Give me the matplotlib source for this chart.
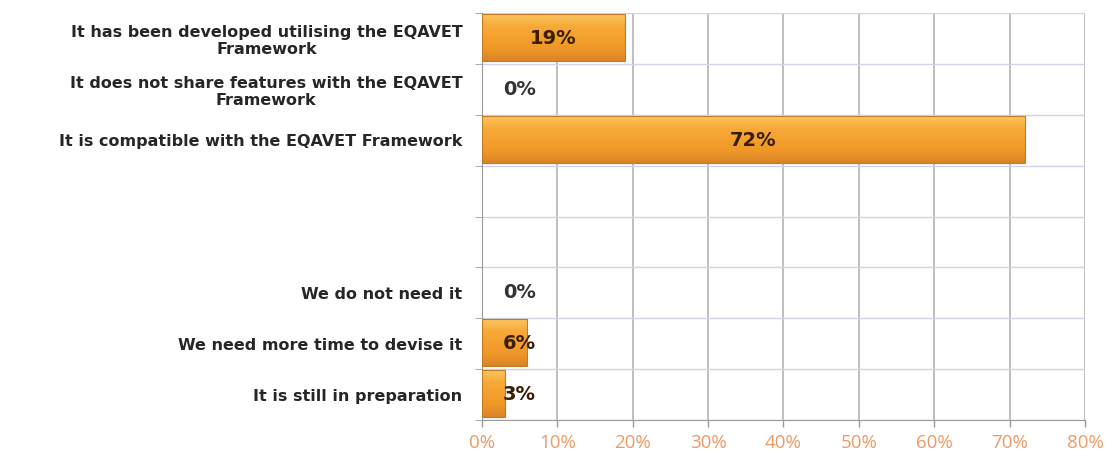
import numpy as np
import matplotlib
matplotlib.use("Agg")
import matplotlib.pyplot as plt
from matplotlib.colors import LinearSegmentedColormap
from matplotlib.ticker import FuncFormatter

# data, top row first
categories = [
    "It has been developed utilising the EQAVET\nFramework",
    "It does not share features with the EQAVET\nFramework",
    "It is compatible with the EQAVET Framework",
    "",
    "",
    "We do not need it",
    "We need more time to devise it",
    "It is still in preparation",
]
values = [19, 0, 72, None, None, 0, 6, 3]
xticks = [0, 10, 20, 30, 40, 50, 60, 70, 80]

plt.rcParams["font.family"] = ["DejaVu Sans"]

fig = plt.figure(figsize=(11.14, 4.63), dpi=100)
ax = fig.add_axes([482 / 1114, 1 - 420 / 463, 603 / 1114, 407 / 463])

# orange bar gradient, light top -> slightly darker bottom
grad = LinearSegmentedColormap.from_list(
    "bar", ["#FBC65E", "#F7AA38", "#F4A02E", "#EF9727", "#D9842A"])
g = np.linspace(0, 1, 64).reshape(-1, 1)

y = np.arange(len(categories))
h = 0.92
for yi, v in zip(y, values):
    if v is None:
        continue
    if v > 0:
        top, bot = yi - 0.02 - h / 2, yi - 0.02 + h / 2
        ax.imshow(g, cmap=grad, extent=[0, v, bot, top], aspect="auto",
                  interpolation="bilinear", zorder=3)
        ax.barh(yi - 0.02, v, height=h, facecolor="none",
                edgecolor="#C07A28", linewidth=0.8, zorder=4)
    xpos = max(v / 2, 5)
    col = "#3a1f05" if v > 0 else "#333333"
    ax.text(xpos, yi, f"{v}%", ha="center", va="center", fontsize=14,
            fontweight="bold", color=col, zorder=5)

ax.set_xlim(0, 80)
ax.set_ylim(len(categories) - 0.5, -0.5)
ax.set_xticks(xticks)
ax.xaxis.set_major_formatter(FuncFormatter(lambda v, p: f"{int(v)}%"))
ax.tick_params(axis="x", colors="#9a9a9a", labelcolor="#EC9A66",
               labelsize=13.5, length=5, width=1, pad=5)
for lab in ax.get_xticklabels():
    lab.set_family("Open Sans")

ax.set_yticks(y)
ax.set_yticklabels(categories, fontsize=11.5, fontweight="bold",
                   color="#262626", multialignment="center",
                   linespacing=1.2)
ax.set_yticks(np.arange(len(categories) + 1) - 0.5, minor=True)
ax.tick_params(axis="y", which="major", length=0, pad=14)
ax.tick_params(axis="y", which="minor", length=5, color="#9a9a9a")

ax.grid(axis="x", color="#b4b4b4", linewidth=1.2, zorder=0)
ax.grid(axis="y", which="minor", color="#d0d4e4", linewidth=1.0, zorder=0)
ax.set_axisbelow(True)

for s in ["top", "right"]:
    ax.spines[s].set_visible(False)
ax.spines["left"].set_color("#9a9a9a")
ax.spines["bottom"].set_color("#9a9a9a")

fig.savefig("out.png", dpi=100)
